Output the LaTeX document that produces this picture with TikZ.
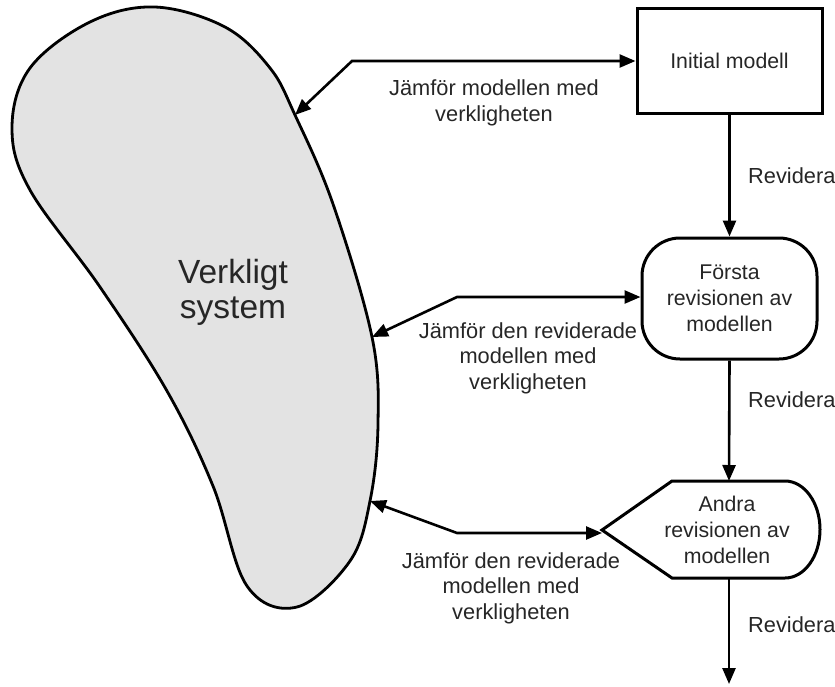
\documentclass[tikz,border=0pt]{standalone}
\usepackage{fontspec}
\setmainfont{Liberation Sans}
\usetikzlibrary{arrows.meta}
\tikzset{
  conn/.style={line width=2.6pt, -{Triangle[length=16pt,width=13pt]}},
  conn2/.style={line width=2.6pt, {Triangle[length=16pt,width=13pt]}-{Triangle[length=16pt,width=13pt]}},
  lbl/.style={align=center, font=\fontsize{21.8}{25.5}\selectfont, text=black!85, inner sep=0pt},
  boxtxt/.style={align=center, font=\fontsize{21.3}{26}\selectfont, text=black!85, inner sep=0pt},
  frame/.style={line width=3pt, draw=black},
}
\begin{document}
\begin{tikzpicture}[x=1pt,y=-1pt]
\useasboundingbox (0,0) rectangle (835,686);
% real system blob
\draw[line width=2.8pt, fill=black!11] plot[smooth cycle, tension=0.6] coordinates {
 (155,7) (225,27) (270,68) (295,115) (333,204) (372,337) (378,424) (370,501)
 (350,561) (297,607) (247,586) (213,486) (167,391) (100,287) (30,190) (12,128) (30,68) (90,22)};
\node[font=\fontsize{33.5}{35}\selectfont, align=center, text=black!85] (sys) at (233,292) {Verkligt\\system};
\coordinate (s1) at (295,115);
\coordinate (s2) at (372,337);
\coordinate (s3) at (370,501);

% boxes
\node[frame, minimum width=185pt, minimum height=105pt, boxtxt] (init) at (729.5,60.5) {Initial modell};
\node[frame, rounded corners=38pt, minimum width=175pt, minimum height=121pt, boxtxt] (forsta) at (729.5,298.5) {Första\\revisionen av\\modellen};
\coordinate (aW) at (602,530);
\coordinate (aN) at (729,481);
\coordinate (aS) at (729,578);
\draw[frame] (aW) -- (672,481) -- (785,481) arc[start angle=-90, end angle=90, x radius=35pt, y radius=-48.5pt] -- (672,578) -- cycle;
\node[boxtxt] (andra) at (727,530) {Andra\\revisionen av\\modellen};
\coordinate (end) at (729,684);

% bend points
\coordinate (b1) at (352,61);
\coordinate (b2) at (457,297);
\coordinate (b3) at (457,533);

% connectors
\draw[conn2] (s1) -- (b1) -- (init.west |- 0,61);
\draw[conn2] (s2) -- (b2) -- (forsta.west |- 0,297);
\draw[conn2] (s3) -- (b3) -- (aW |- 0,533);
\draw[conn] (init.south) -- (forsta.north);
\draw[conn] (forsta.south) -- (aN);
\draw[conn] (aS) -- (end);

% labels
\node[lbl] (l1) at (494,103) {Jämför modellen med\\verkligheten};
\node[lbl] (l2) at (528,358) {Jämför den reviderade\\modellen med\\verkligheten};
\node[lbl] (l3) at (511,588) {Jämför den reviderade\\modellen med\\verkligheten};
\node[lbl, anchor=west] (r1) at (748,176) {Revidera};
\node[lbl, anchor=west] (r2) at (748,400) {Revidera};
\node[lbl, anchor=west] (r3) at (748,625) {Revidera};
\end{tikzpicture}
\end{document}
